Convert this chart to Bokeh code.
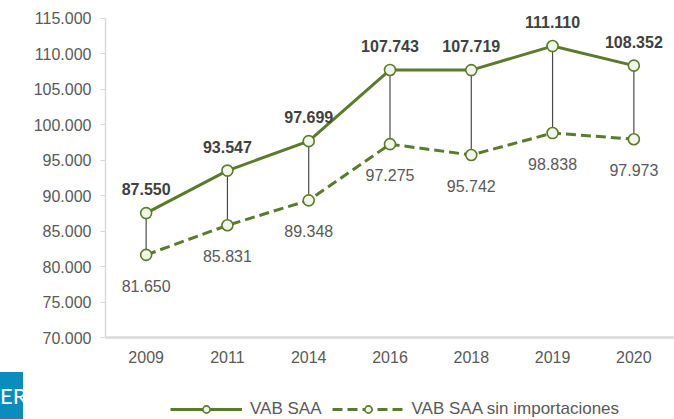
from bokeh.plotting import figure
from bokeh.layouts import row, column
from bokeh.models import (ColumnDataSource, FactorRange, Range1d, FixedTicker,
                          CustomJSTickFormatter, Legend, LegendItem, Div, Spacer)
from bokeh.core.properties import value
from bokeh.embed import file_html
from bokeh.resources import INLINE

# ---- data ----
years = ["2009", "2011", "2014", "2016", "2018", "2019", "2020"]
vab_saa = [87550, 93547, 97699, 107743, 107719, 111110, 108352]
vab_saa_sin_imp = [81650, 85831, 89348, 97275, 95742, 98838, 97973]
y_ticks = [70000, 75000, 80000, 85000, 90000, 95000, 100000, 105000, 110000, 115000]
series_names = ["VAB SAA", "VAB SAA sin importaciones"]


def fmt(v):
    return f"{v:,}".replace(",", ".")


src = ColumnDataSource(dict(
    year=years,
    top=vab_saa,
    bot=vab_saa_sin_imp,
    top_lbl=[fmt(v) for v in vab_saa],
    bot_lbl=[fmt(v) for v in vab_saa_sin_imp],
))

GREEN = "#5a7a2c"
FONT = "Liberation Sans"
GREY_TXT = "#595959"
AXIS = "#d9d9d9"
LINE_KW = dict(line_color=GREEN, line_width=3)
DOT_KW = dict(size=11, marker="circle", fill_color="#f1f4e8",
              line_color=GREEN, line_width=1.6)

# ---------------- main chart ----------------
p = figure(frame_width=569, frame_height=329,
           x_range=FactorRange(*years, range_padding=0),
           y_range=Range1d(70000, 116410),
           output_backend="svg", toolbar_location=None,
           min_border_left=82, min_border_right=0,
           min_border_top=8, min_border_bottom=55)
p.outline_line_color = None
p.xgrid.grid_line_color = None
p.ygrid.grid_line_color = None

# y axis
yax = p.yaxis[0]
yax.ticker = FixedTicker(ticks=y_ticks)
yax.bounds = (70000, 115000)
yax.formatter = CustomJSTickFormatter(code="""
    return Math.round(tick).toString().replace(/\\B(?=(\\d{3})+(?!\\d))/g, '.');
""")
yax.axis_line_color = AXIS
yax.axis_line_width = 1.5
yax.major_tick_line_color = AXIS
yax.major_tick_out = 5
yax.major_tick_in = 0
yax.minor_tick_line_color = None
yax.major_label_standoff = 9
yax.major_label_text_font = FONT
yax.major_label_text_font_size = "16px"
yax.major_label_text_color = GREY_TXT

# x axis
xax = p.xaxis[0]
xax.axis_line_color = AXIS
xax.axis_line_width = 2.5
xax.major_tick_line_color = None
xax.major_tick_out = 0
xax.major_tick_in = 0
xax.minor_tick_line_color = None
xax.major_label_standoff = 13
xax.major_label_text_font = FONT
xax.major_label_text_font_size = "16px"
xax.major_label_text_color = GREY_TXT

# connectors
p.segment(x0="year", y0="top", x1="year", y1="bot", source=src,
          line_color="#4a4a4a", line_width=1.2)

# lines and markers
p.line(x="year", y="top", source=src, **LINE_KW)
p.line(x="year", y="bot", source=src, line_dash="10 5", **LINE_KW)
p.scatter(x="year", y="top", source=src, **DOT_KW)
p.scatter(x="year", y="bot", source=src, **DOT_KW)

# data labels
p.text(x="year", y="top", text="top_lbl", source=src, text_align="center",
       text_baseline="middle", y_offset=-24, text_font=value(FONT),
       text_font_style="bold", text_font_size="16px", text_color="#404040")
p.text(x="year", y="bot", text="bot_lbl", source=src, text_align="center",
       text_baseline="middle", y_offset=31, text_font=value(FONT),
       text_font_size="16px", text_color=GREY_TXT)

# ---------------- legend strip ----------------
# same series drawn outside this strip's y range, so only the legend shows
lg = figure(frame_width=569, frame_height=27,
            x_range=FactorRange(*years, range_padding=0),
            y_range=Range1d(0, 1),
            output_backend="svg", toolbar_location=None,
            x_axis_location=None, y_axis_location=None,
            min_border_left=82, min_border_right=0,
            min_border_top=0, min_border_bottom=0)
lg.outline_line_color = None
lg.xgrid.grid_line_color = None
lg.ygrid.grid_line_color = None
g1 = lg.line(x="year", y="top", source=src, **LINE_KW)
g2 = lg.line(x="year", y="bot", source=src, line_dash="10 5", **LINE_KW)
d1 = lg.scatter(x="year", y="top", source=src, **DOT_KW)
d2 = lg.scatter(x="year", y="bot", source=src, **DOT_KW)

legend = Legend(items=[LegendItem(label=series_names[0], renderers=[g1, d1]),
                       LegendItem(label=series_names[1], renderers=[g2, d2])],
                orientation="horizontal", location=(65, 0),
                glyph_width=72, glyph_height=18, label_standoff=8, spacing=10,
                padding=0, margin=0, border_line_color=None,
                background_fill_alpha=0,
                label_text_font=FONT, label_text_font_size="17px",
                label_text_color=GREY_TXT)
lg.add_layout(legend, "center")

# ---------------- cropped logo in the lower-left corner ----------------
logo = Div(text='<div style="line-height:47px;">ER</div>',
           width=23, height=47, margin=0,
           styles={"background-color": "#0a8cbf", "color": "white",
                   "overflow": "hidden", "font-family": "Lato",
                   "font-size": "22px", "white-space": "nowrap"})
left_col = column(Spacer(width=23, height=372, margin=0), logo, spacing=0, margin=0)
right_col = column(p, lg, spacing=0, margin=0)
layout = row(left_col, right_col, spacing=0, margin=0)

open("out.html", "w").write(file_html(layout, INLINE))
